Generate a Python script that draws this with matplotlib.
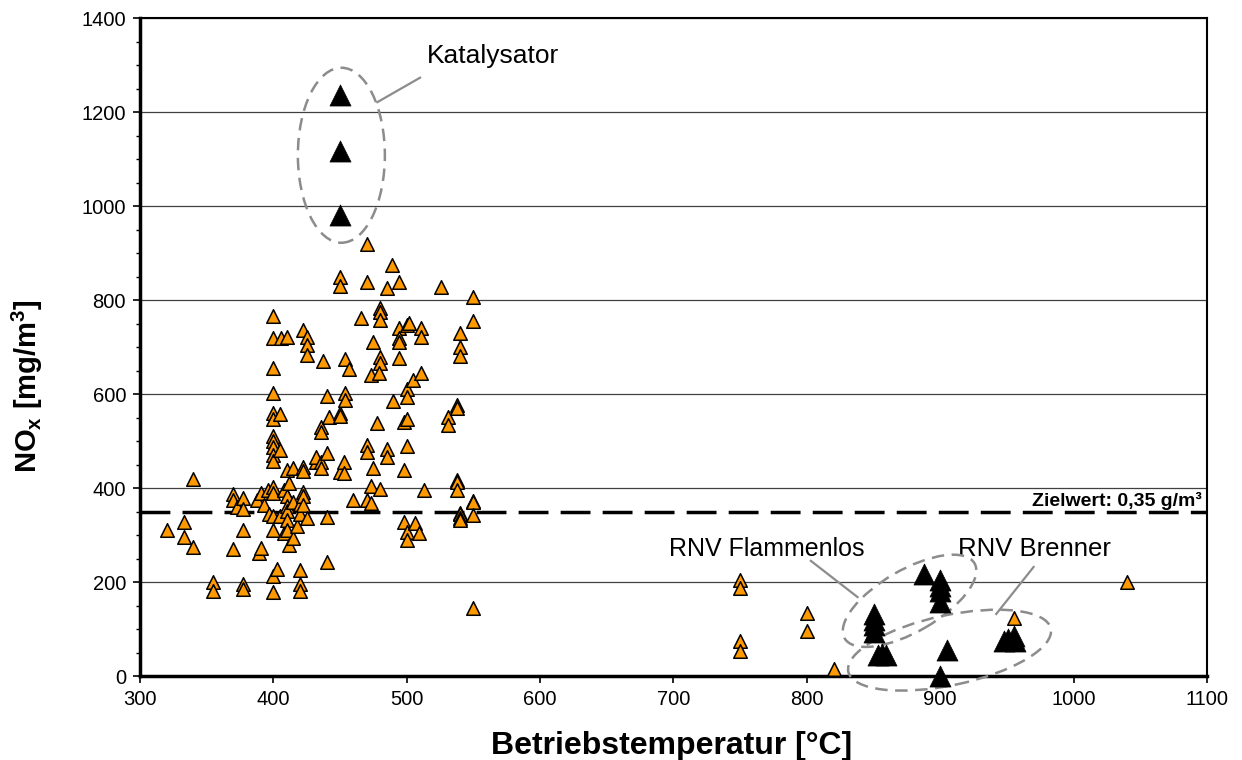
import matplotlib
matplotlib.use("Agg")
import matplotlib.pyplot as plt
from matplotlib.patches import Ellipse
from matplotlib.transforms import ScaledTranslation
from matplotlib.ticker import MultipleLocator

plt.rcParams['font.family'] = ['Liberation Sans', 'DejaVu Sans']
plt.rcParams['mathtext.fontset'] = 'custom'
plt.rcParams['mathtext.rm'] = 'Liberation Sans'
plt.rcParams['mathtext.bf'] = 'Liberation Sans:bold'

# --- measured plants: operating temperature [°C] vs. NOx [mg/m3] ---
temp_other = [
    320, 333, 333, 340, 340, 355, 355, 370, 370, 370, 373,
    377, 377, 377, 377, 377, 388, 389, 391, 391, 393, 396, 397,
    400, 400, 400, 400, 400, 400, 400, 400, 400, 400, 400, 400, 400, 400, 400, 400, 400,
    403, 405, 405, 405, 406, 408, 408,
    410, 410, 410, 410, 410, 410, 410, 412, 412, 415, 415, 415, 418,
    420, 420, 420, 420, 420, 422, 422, 422, 422, 422, 422,
    425, 425, 425, 425, 432, 432, 436, 436, 436, 436, 437,
    440, 440, 440, 440, 442, 450, 450, 450, 450, 450, 453, 453,
    454, 454, 454, 457, 460, 466, 470, 470, 470, 470, 470,
    473, 473, 473, 475, 475, 478, 480, 480, 480, 480, 480, 480, 479,
    485, 485, 485, 489, 490, 494, 494, 494, 494, 494, 498, 498, 498,
    500, 500, 500, 500, 500, 500, 500, 502, 505, 506, 509,
    511, 511, 511, 513, 526, 531, 531, 538, 538, 538, 538, 538,
    540, 540, 540, 540, 540, 540, 540, 550, 550, 550, 550, 550, 550,
    750, 750, 750, 750, 800, 800, 820, 955, 1040,
]
nox_other = [
    310, 328, 296, 274, 420, 200, 181, 387, 374, 270, 360,
    379, 355, 311, 196, 185, 374, 262, 272, 389, 364, 396, 345,
    766, 719, 655, 602, 560, 547, 511, 500, 487, 470, 458, 402, 389, 340, 311, 213, 179,
    228, 557, 340, 480, 719, 395, 305,
    721, 438, 383, 362, 351, 332, 311, 410, 279, 442, 294, 370, 320,
    365, 345, 225, 195, 180, 736, 445, 437, 392, 383, 364,
    721, 704, 683, 336, 455, 465, 530, 519, 455, 443, 670,
    596, 475, 338, 243, 551, 848, 830, 560, 553, 434, 455, 432,
    675, 602, 587, 653, 375, 762, 920, 838, 492, 477, 375,
    641, 404, 368, 711, 443, 538, 783, 774, 757, 679, 666, 398, 645,
    826, 483, 466, 875, 585, 838, 740, 719, 711, 677, 540, 439, 328,
    747, 611, 594, 547, 490, 306, 289, 751, 630, 325, 304,
    740, 721, 645, 396, 828, 551, 535, 577, 570, 417, 413, 396,
    730, 700, 681, 347, 344, 336, 333, 807, 756, 372, 370, 343, 145,
    205, 187, 74, 53, 134, 95, 14, 124, 199,
]

# highlighted technologies
temp_kat = [450, 450, 450]
nox_kat = [1236, 1116, 981]

temp_flam = [850, 850, 850, 850, 888, 900, 900, 900, 900]
nox_flam = [133, 119, 109, 94, 218, 205, 192, 180, 158]

temp_bren = [853, 856, 859, 900, 905, 948, 951, 955, 956]
nox_bren = [45, 47, 45, 0, 55, 75, 78, 85, 75]

limit_value = 350  # Zielwert 0,35 g/m3 in mg/m3

GRAY = '#8c8c8c'


def ring(ax, cx, cy, w, h, angle=0):
    """Dashed ellipse around a group; size in inches, centred on a data point."""
    tr = ax.figure.dpi_scale_trans + ScaledTranslation(cx, cy, ax.transData)
    ax.add_patch(Ellipse((0, 0), w, h, angle=angle, transform=tr, fill=False,
                         edgecolor=GRAY, lw=1.8, linestyle=(0, (5, 3)),
                         clip_on=False, zorder=4))


fig = plt.figure(figsize=(12.42, 7.6), dpi=100)
ax = fig.add_axes([0.1127, 0.1105, 0.8591, 0.8658])

ax.scatter(temp_other, nox_other, marker='^', s=95, c='#FF9900',
           edgecolors='black', linewidths=1.1, zorder=3, clip_on=False)
for t, n in ((temp_kat, nox_kat), (temp_flam, nox_flam), (temp_bren, nox_bren)):
    ax.scatter(t, n, marker='^', s=230, c='black', edgecolors='black',
               linewidths=0.5, zorder=5, clip_on=False)

ax.axhline(limit_value, color='black', lw=2.5, dashes=(8.6, 3.5), zorder=2)
ax.text(1096, 373, 'Zielwert: 0,35 g/m³', ha='right', va='center',
        fontsize=14, fontweight='bold')

# group markings
ring(ax, 451, 1108, 0.87, 1.75)
ring(ax, 877, 160, 1.50, 0.62, angle=30)
ring(ax, 907, 55, 2.07, 0.70, angle=12)

ax.plot([478, 510], [1221, 1273], color=GRAY, lw=1.6, zorder=4)
ax.plot([803, 838], [245, 168], color=GRAY, lw=1.6, zorder=4)
ax.plot([970, 942], [232, 132], color=GRAY, lw=1.6, zorder=4)

ax.text(515, 1319, 'Katalysator', ha='left', va='center', fontsize=19)
ax.text(697, 270, 'RNV Flammenlos', ha='left', va='center', fontsize=18)
ax.text(913, 270, 'RNV Brenner', ha='left', va='center', fontsize=18.5)

ax.set_xlim(300, 1100)
ax.set_ylim(0, 1400)
ax.xaxis.set_major_locator(MultipleLocator(100))
ax.yaxis.set_major_locator(MultipleLocator(200))
ax.yaxis.set_minor_locator(MultipleLocator(50))
ax.grid(axis='y', which='major', color='#404040', lw=0.9)
ax.set_axisbelow(True)

ax.tick_params(axis='both', which='major', direction='out', length=5,
               width=1.2, labelsize=14.5, pad=5)
ax.tick_params(axis='y', which='minor', direction='out', length=3, width=1)
for side in ('left', 'bottom'):
    ax.spines[side].set_linewidth(2.5)
for side in ('top', 'right'):
    ax.spines[side].set_linewidth(1.5)

ax.set_xlabel('Betriebstemperatur [°C]', fontsize=23, fontweight='bold')
ax.xaxis.set_label_coords(0.498, -0.083)
ax.set_ylabel(r'NO$_\mathbf{x}$ [mg/m$^\mathbf{3}$]', fontsize=21,
              fontweight='bold')
ax.yaxis.set_label_coords(-0.089, 0.44)

fig.savefig('out.png', dpi=100)
